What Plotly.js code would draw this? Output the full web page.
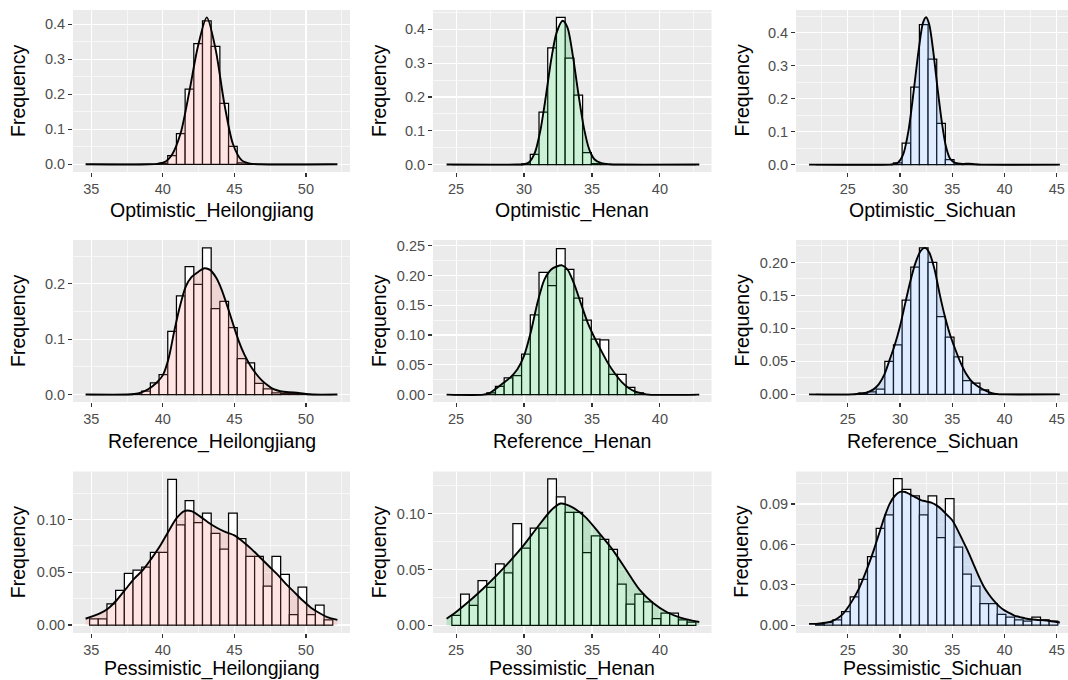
<!DOCTYPE html>
<html>
<head>
<meta charset="utf-8">
<script src="https://cdn.plot.ly/plotly-3.0.1.min.js"></script>
<style>
  html, body { margin: 0; padding: 0; background: #ffffff; }
  #chart { width: 1068px; height: 680px; }
</style>
</head>
<body>
<div id="chart"></div>
<script>
// Histogram breaks per province: first bin edge and bin width
const heilongjiangBinStart = 34.88, heilongjiangBinWidth = 0.607;
const henanBinStart = 24.69, henanBinWidth = 0.6414;
const sichuanBinStart = 21.93, sichuanBinWidth = 0.8276;

// Relative frequency of each bin (28 bins per panel)
const optimisticHeilongjiang = [0,0,0,0,0,0,0,0,0.003,0.025,0.088,0.215,0.345,0.41,0.337,0.174,0.051,0.004,0,0,0,0,0,0,0,0,0,0];
const optimisticHenan = [0,0,0,0,0,0,0,0,0.002,0.03,0.155,0.345,0.435,0.315,0.205,0.035,0.003,0,0,0,0,0,0,0,0,0,0,0];
const optimisticSichuan = [0,0,0,0,0,0,0,0,0,0.005,0.065,0.235,0.425,0.32,0.125,0.015,0.001,0.002,0,0,0,0,0,0,0,0,0,0];
const referenceHeilongjiang = [0,0,0,0,0,0.001,0.006,0.021,0.036,0.114,0.178,0.231,0.199,0.265,0.155,0.168,0.121,0.065,0.057,0.020,0.010,0.003,0.002,0.002,0.001,0,0,0];
const referenceHenan = [0,0,0,0,0.003,0.014,0.028,0.032,0.068,0.134,0.205,0.183,0.245,0.21,0.162,0.125,0.093,0.092,0.034,0.034,0.012,0.003,0,0,0,0,0,0];
const referenceSichuan = [0,0,0,0,0,0.002,0.004,0.008,0.05,0.075,0.143,0.193,0.222,0.2,0.118,0.087,0.057,0.021,0.017,0.007,0.001,0,0,0,0,0,0,0];
const pessimisticHeilongjiang = [0.006,0.006,0.020,0.033,0.049,0.052,0.055,0.069,0.069,0.138,0.095,0.118,0.097,0.106,0.087,0.072,0.106,0.082,0.065,0.065,0.037,0.065,0.048,0.010,0.036,0.010,0.019,0.005];
const pessimisticHenan = [0.009,0.028,0.018,0.040,0.034,0.055,0.047,0.091,0.069,0.087,0.087,0.131,0.115,0.101,0.101,0.065,0.080,0.077,0.068,0.037,0.019,0.028,0.021,0.006,0.011,0.011,0.005,0.003];
const pessimisticSichuan = [0.001,0.002,0.004,0.010,0.021,0.034,0.051,0.072,0.082,0.109,0.101,0.096,0.082,0.096,0.065,0.094,0.058,0.038,0.029,0.016,0.016,0.008,0.006,0.004,0.003,0.006,0.004,0.003];

// Kernel density estimates (x, density)
const optimisticHeilongjiangDensityX = [34.6,39.0,39.7,40.2,40.65,41.25,41.86,42.47,43.07,43.68,44.29,44.9,45.5,46.1,46.8,52.2];
const optimisticHeilongjiangDensityY = [0,0,0.002,0.008,0.028,0.09,0.21,0.34,0.42,0.33,0.175,0.058,0.012,0.002,0,0];
const optimisticHenanDensityX = [24.3,29.5,30.0,30.4,30.8,31.2,31.6,32.0,32.4,32.85,33.2,33.6,34.0,34.4,34.8,35.2,35.7,36.3,37.0,42.9];
const optimisticHenanDensityY = [0,0,0.001,0.008,0.035,0.1,0.2,0.31,0.39,0.425,0.405,0.32,0.21,0.11,0.045,0.015,0.004,0.001,0,0];
const optimisticSichuanDensityX = [21.3,29.0,29.3,29.8,30.3,30.8,31.3,31.8,32.2,32.5,32.8,33.2,33.6,34.0,34.4,34.8,35.3,36.0,36.6,37.2,37.8,45.3];
const optimisticSichuanDensityY = [0,0,0.001,0.006,0.03,0.1,0.22,0.35,0.43,0.447,0.425,0.34,0.23,0.13,0.055,0.018,0.005,0.002,0.003,0.001,0,0];
const referenceHeilongjiangDensityX = [34.6,37.5,38.0,38.5,39.0,39.5,40.0,40.4,40.8,41.2,41.6,42.0,42.5,42.9,43.3,43.7,44.1,44.5,44.9,45.3,45.7,46.1,46.5,46.9,47.3,47.7,48.2,48.8,49.5,50.0,50.5,52.2];
const referenceHeilongjiangDensityY = [0,0,0.001,0.004,0.01,0.02,0.035,0.065,0.115,0.16,0.195,0.212,0.222,0.228,0.225,0.212,0.19,0.16,0.128,0.097,0.072,0.053,0.038,0.026,0.017,0.01,0.006,0.004,0.003,0.001,0,0];
const referenceHenanDensityX = [24.3,27.0,27.5,28.0,28.5,29.0,29.5,30.0,30.5,31.0,31.5,32.0,32.4,32.8,33.2,33.7,34.2,34.7,35.2,35.7,36.2,36.7,37.2,37.7,38.2,38.7,39.2,42.9];
const referenceHenanDensityY = [0,0,0.003,0.011,0.02,0.029,0.042,0.065,0.105,0.155,0.193,0.21,0.215,0.217,0.21,0.185,0.152,0.12,0.095,0.073,0.052,0.035,0.021,0.011,0.005,0.002,0,0];
const referenceSichuanDensityX = [21.3,25.5,26.0,26.5,27.0,27.5,28.0,28.5,29.0,29.5,30.0,30.5,31.0,31.5,32.0,32.4,32.8,33.3,33.8,34.3,34.8,35.3,35.8,36.3,36.8,37.3,37.8,38.3,38.8,39.3,39.8,45.3];
const referenceSichuanDensityY = [0,0,0.001,0.002,0.004,0.008,0.016,0.03,0.052,0.075,0.103,0.138,0.172,0.2,0.218,0.222,0.215,0.19,0.152,0.118,0.09,0.068,0.048,0.032,0.021,0.014,0.009,0.005,0.002,0.0005,0,0];
const pessimisticHeilongjiangDensityX = [34.6,35.0,35.6,36.2,36.8,37.4,38.0,38.6,39.2,39.8,40.4,41.0,41.5,42.0,42.6,43.2,43.8,44.4,45.0,45.6,46.2,46.8,47.4,48.0,48.6,49.2,49.8,50.4,51.0,51.6,52.2];
const pessimisticHeilongjiangDensityY = [0.006,0.008,0.011,0.016,0.024,0.034,0.044,0.052,0.063,0.075,0.089,0.102,0.108,0.108,0.103,0.097,0.092,0.088,0.085,0.079,0.072,0.064,0.056,0.048,0.039,0.031,0.023,0.016,0.011,0.007,0.005];
const pessimisticHenanDensityX = [24.3,25.0,26.0,27.0,28.0,29.0,30.0,31.0,32.0,32.7,33.5,34.5,35.5,36.5,37.5,38.5,39.5,40.5,41.5,42.5,42.9];
const pessimisticHenanDensityY = [0.006,0.012,0.022,0.033,0.045,0.058,0.072,0.088,0.103,0.109,0.106,0.097,0.083,0.068,0.05,0.032,0.02,0.012,0.007,0.004,0.003];
const pessimisticSichuanDensityX = [21.3,22.0,22.5,23.0,23.5,24.0,24.5,25.0,25.5,26.0,26.5,27.0,27.5,28.0,28.5,29.0,29.5,30.0,30.5,31.0,31.5,32.0,32.5,33.0,33.5,34.0,34.5,35.0,35.5,36.0,36.5,37.0,37.5,38.0,38.5,39.0,39.5,40.0,40.5,41.0,41.5,42.0,43.0,44.0,45.3];
const pessimisticSichuanDensityY = [0.001,0.001,0.0015,0.002,0.003,0.005,0.008,0.013,0.019,0.026,0.035,0.045,0.056,0.068,0.08,0.09,0.096,0.099,0.099,0.097,0.095,0.093,0.092,0.091,0.089,0.086,0.082,0.078,0.071,0.063,0.055,0.046,0.037,0.029,0.023,0.018,0.014,0.011,0.009,0.007,0.006,0.005,0.004,0.0035,0.002];

const panelTitles = [
  'Optimistic_Heilongjiang', 'Optimistic_Henan', 'Optimistic_Sichuan',
  'Reference_Heilongjiang', 'Reference_Henan', 'Reference_Sichuan',
  'Pessimistic_Heilongjiang', 'Pessimistic_Henan', 'Pessimistic_Sichuan'
];
const yAxisTitle = 'Frequency';

// Province fills (ggplot hue colours at alpha 0.2)
const fills = {
  heilongjiang: 'rgba(248,118,109,0.2)',
  henan: 'rgba(0,186,56,0.2)',
  sichuan: 'rgba(97,156,255,0.2)'
};

const panels = [
  { freq: optimisticHeilongjiang, start: heilongjiangBinStart, width: heilongjiangBinWidth, dx: optimisticHeilongjiangDensityX, dy: optimisticHeilongjiangDensityY, fill: fills.heilongjiang },
  { freq: optimisticHenan, start: henanBinStart, width: henanBinWidth, dx: optimisticHenanDensityX, dy: optimisticHenanDensityY, fill: fills.henan },
  { freq: optimisticSichuan, start: sichuanBinStart, width: sichuanBinWidth, dx: optimisticSichuanDensityX, dy: optimisticSichuanDensityY, fill: fills.sichuan },
  { freq: referenceHeilongjiang, start: heilongjiangBinStart, width: heilongjiangBinWidth, dx: referenceHeilongjiangDensityX, dy: referenceHeilongjiangDensityY, fill: fills.heilongjiang },
  { freq: referenceHenan, start: henanBinStart, width: henanBinWidth, dx: referenceHenanDensityX, dy: referenceHenanDensityY, fill: fills.henan },
  { freq: referenceSichuan, start: sichuanBinStart, width: sichuanBinWidth, dx: referenceSichuanDensityX, dy: referenceSichuanDensityY, fill: fills.sichuan },
  { freq: pessimisticHeilongjiang, start: heilongjiangBinStart, width: heilongjiangBinWidth, dx: pessimisticHeilongjiangDensityX, dy: pessimisticHeilongjiangDensityY, fill: fills.heilongjiang },
  { freq: pessimisticHenan, start: henanBinStart, width: henanBinWidth, dx: pessimisticHenanDensityX, dy: pessimisticHenanDensityY, fill: fills.henan },
  { freq: pessimisticSichuan, start: sichuanBinStart, width: sichuanBinWidth, dx: pessimisticSichuanDensityX, dy: pessimisticSichuanDensityY, fill: fills.sichuan }
];

// Page geometry in pixels
const W = 1068, H = 680;
const colPx = [[73, 350], [433, 711.5], [796, 1068]];
const rowPx = [[10, 172], [240, 402], [471.5, 633]];
const xTitleOffset = [38, 39, 35];
const yTitleX = [18, 379, 741.5];

const xRanges = [[33.72, 53.08], [23.3, 43.8], [20.05, 46.08]];
const yAxes = [
  { range: [-0.022, 0.441], dtick: 0.1, fmt: '.1f' },
  { range: [-0.022, 0.457], dtick: 0.1, fmt: '.1f' },
  { range: [-0.0224, 0.469], dtick: 0.1, fmt: '.1f' },
  { range: [-0.0135, 0.279], dtick: 0.1, fmt: '.1f' },
  { range: [-0.0124, 0.2595], dtick: 0.05, fmt: '.2f' },
  { range: [-0.0115, 0.234], dtick: 0.05, fmt: '.2f' },
  { range: [-0.0075, 0.1455], dtick: 0.05, fmt: '.2f' },
  { range: [-0.0068, 0.1376], dtick: 0.05, fmt: '.2f' },
  { range: [-0.0058, 0.1142], dtick: 0.03, fmt: '.2f' }
];

const fontFamily = '"Liberation Sans", Arial, sans-serif';
const tickFont = { family: fontFamily, size: 14.5, color: '#4D4D4D' };
const titleFont = { family: fontFamily, size: 19.5, color: '#000000' };

const traces = [];
const layout = {
  width: W, height: H,
  margin: { l: 0, r: 0, t: 0, b: 0 },
  paper_bgcolor: '#ffffff',
  plot_bgcolor: '#EBEBEB',
  showlegend: false,
  barmode: 'overlay',
  bargap: 0,
  font: { family: fontFamily },
  annotations: []
};

panels.forEach((p, i) => {
  const n = i + 1;
  const row = Math.floor(i / 3), col = i % 3;
  const xa = 'x' + (n === 1 ? '' : n), ya = 'y' + (n === 1 ? '' : n);

  // bin centres from the breaks
  const centers = p.freq.map((_, k) => p.start + p.width * (k + 0.5));

  traces.push({
    type: 'bar', x: centers, y: p.freq, width: p.width,
    xaxis: xa, yaxis: ya,
    marker: { color: '#ffffff', line: { color: '#000000', width: 1.25 } },
    hoverinfo: 'skip'
  });
  traces.push({
    type: 'scatter', mode: 'lines', x: p.dx, y: p.dy,
    xaxis: xa, yaxis: ya,
    fill: 'tozeroy', fillcolor: p.fill,
    line: { color: '#000000', width: 1.9, shape: 'spline', smoothing: 0.8 },
    hoverinfo: 'skip'
  });

  const [x0, x1] = colPx[col];
  const [yt, yb] = rowPx[row];
  const yc = yAxes[i];

  layout['xaxis' + (n === 1 ? '' : n)] = {
    domain: [x0 / W, x1 / W], anchor: ya, range: xRanges[col],
    tick0: 0, dtick: 5, ticks: 'outside', ticklen: 4, tickwidth: 1.2, tickcolor: '#333333',
    tickfont: tickFont, showgrid: true, gridcolor: '#ffffff', gridwidth: 1.2,
    minor: { tick0: 0, dtick: 2.5, showgrid: true, gridcolor: '#ffffff', gridwidth: 0.6, ticks: '' },
    zeroline: false, showline: false, fixedrange: true
  };
  layout['yaxis' + (n === 1 ? '' : n)] = {
    domain: [1 - yb / H, 1 - yt / H], anchor: xa, range: yc.range,
    tick0: 0, dtick: yc.dtick, tickformat: yc.fmt,
    ticks: 'outside', ticklen: 4, tickwidth: 1.2, tickcolor: '#333333',
    tickfont: tickFont, showgrid: true, gridcolor: '#ffffff', gridwidth: 1.2,
    minor: { tick0: 0, dtick: yc.dtick / 2, showgrid: true, gridcolor: '#ffffff', gridwidth: 0.6, ticks: '' },
    zeroline: false, showline: false, fixedrange: true
  };

  // axis titles
  layout.annotations.push({
    text: panelTitles[i], xref: 'paper', yref: 'paper',
    x: ((x0 + x1) / 2) / W, y: 1 - (yb + xTitleOffset[row]) / H,
    xanchor: 'center', yanchor: 'middle', showarrow: false, font: titleFont
  });
  layout.annotations.push({
    text: yAxisTitle, xref: 'paper', yref: 'paper',
    x: yTitleX[col] / W, y: 1 - ((yt + yb) / 2) / H,
    xanchor: 'center', yanchor: 'middle', textangle: -90, showarrow: false, font: titleFont
  });
});

Plotly.newPlot('chart', traces, layout, { displayModeBar: false, staticPlot: true });
</script>
</body>
</html>
